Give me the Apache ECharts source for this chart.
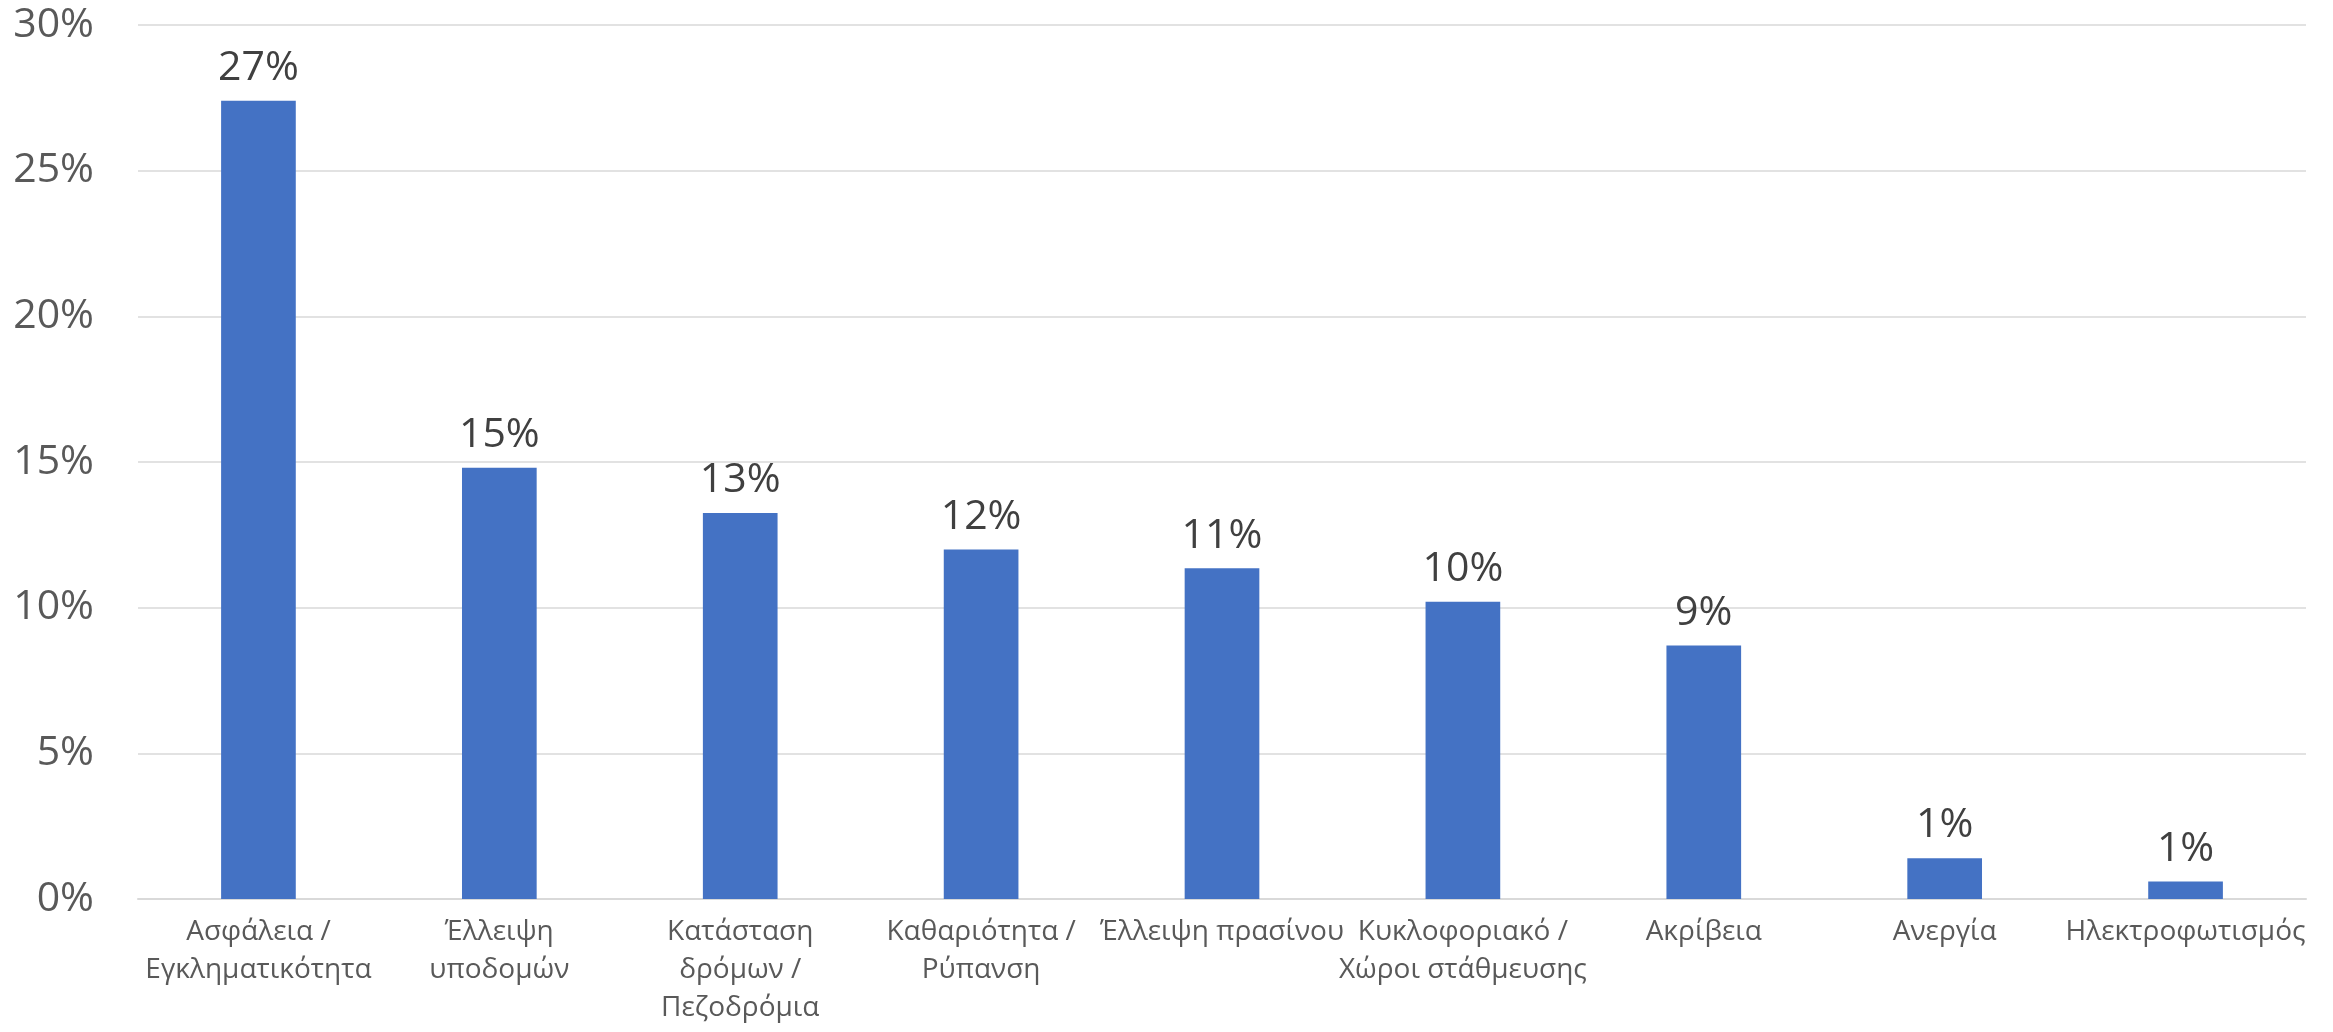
<!DOCTYPE html>
<html>
<head>
<meta charset="utf-8">
<script src="https://cdn.jsdelivr.net/npm/echarts@6/dist/echarts.min.js"></script>
<style>
html,body{margin:0;padding:0;background:#fff;}
#chart{width:2333px;height:1032px;}
</style>
</head>
<body>
<div id="chart"></div>
<script>
var categories = [
  "Ασφάλεια /\nΕγκληματικότητα",
  "Έλλειψη\nυποδομών",
  "Κατάσταση\nδρόμων /\nΠεζοδρόμια",
  "Καθαριότητα /\nΡύπανση",
  "Έλλειψη πρασίνου",
  "Κυκλοφοριακό /\nΧώροι στάθμευσης",
  "Ακρίβεια",
  "Ανεργία",
  "Ηλεκτροφωτισμός"
];
var values = [27.4, 14.8, 13.25, 12.0, 11.35, 10.2, 8.7, 1.4, 0.6];
var yTicks = [0, 5, 10, 15, 20, 25, 30];

var FONT = "'Segoe UI', 'Open Sans', sans-serif";
var chart = echarts.init(document.getElementById('chart'));
chart.setOption({
  animation: false,
  backgroundColor: '#ffffff',
  grid: {left: 138, right: 27, top: 25, bottom: 133},
  xAxis: {
    type: 'category',
    data: categories,
    axisLine: {show: true, lineStyle: {color: '#d9d9d9', width: 2}},
    axisTick: {show: false},
    axisLabel: {
      color: '#595959', fontSize: 28, fontFamily: FONT,
      lineHeight: 38, margin: 14, interval: 0
    }
  },
  yAxis: {
    type: 'value',
    min: yTicks[0], max: yTicks[yTicks.length - 1], interval: 5,
    axisLine: {show: false},
    axisTick: {show: false},
    splitLine: {lineStyle: {color: '#d9d9d9', width: 1.5}},
    axisLabel: {
      color: '#595959', fontSize: 41, fontFamily: FONT, margin: 44,
      formatter: function (v) { return v + '%'; }
    }
  },
  series: [{
    type: 'bar',
    data: values,
    barWidth: '31%',
    itemStyle: {color: '#4472C4'},
    label: {
      show: true, position: 'top', distance: 12,
      color: '#404040', fontSize: 41, fontFamily: FONT,
      formatter: function (p) { return Math.round(p.value) + '%'; }
    }
  }]
});
</script>
</body>
</html>
